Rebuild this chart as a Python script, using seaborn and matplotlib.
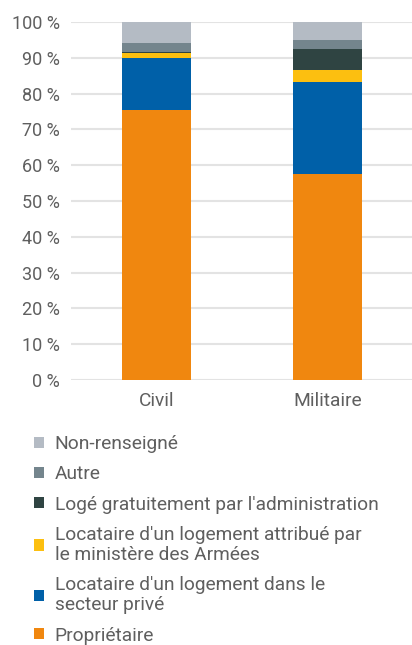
import numpy as np
import pandas as pd
import matplotlib.pyplot as plt
import seaborn as sns
from matplotlib.patches import Patch
from matplotlib.ticker import FuncFormatter

categories = ["Civil", "Militaire"]
series = [
    "Propriétaire",
    "Locataire d'un logement dans le\nsecteur privé",
    "Locataire d'un logement attribué par\nle ministère des Armées",
    "Logé gratuitement par l'administration",
    "Autre",
    "Non-renseigné",
]
proprietaire = [75.4, 57.6]
secteur_prive = [14.5, 25.7]
ministere = [1.3, 3.2]
loge_gratuit = [0.5, 6.0]
autre = [2.5, 2.5]
non_renseigne = [5.8, 5.0]
colors = ["#F0870F", "#0060A8", "#FCBF10", "#2F4442", "#74858D", "#B4BBC4"]

values = [proprietaire, secteur_prive, ministere, loge_gratuit, autre, non_renseigne]

sns.set_style("white")
plt.rcParams["font.family"] = ["Roboto", "DejaVu Sans"]
text_color = "#5f5f5f"

fig = plt.figure(figsize=(4.12, 6.45), dpi=100)
ax = fig.add_axes([0.172, 0.411, 0.83, 0.555])

# stacked bars: draw cumulative totals from the top down
cum = np.cumsum(np.array(values), axis=0)
for i in range(len(series) - 1, -1, -1):
    df = pd.DataFrame({"cat": categories, "val": cum[i]})
    sns.barplot(data=df, x="cat", y="val", color=colors[i], width=0.4,
                saturation=1, edgecolor="none", ax=ax, zorder=3)

ax.set_ylim(0, 100)
ax.set_xlim(-0.5, 1.5)
ax.set_yticks(range(0, 101, 10))
ax.yaxis.set_major_formatter(FuncFormatter(lambda v, p: f"{int(v)}\u00a0%"))
ax.grid(axis="y", color="#e3e3e3", linewidth=1.5, zorder=0)
ax.set_axisbelow(True)
for s in ax.spines.values():
    s.set_visible(False)
ax.tick_params(axis="both", length=0, labelcolor=text_color)
ax.tick_params(axis="y", pad=8, labelsize=13)
ax.tick_params(axis="x", pad=9, labelsize=13.8)
ax.set_xlabel("")
ax.set_ylabel("")

handles = [Patch(facecolor=colors[i], edgecolor="none", label=series[i])
           for i in range(len(series) - 1, -1, -1)]
leg = fig.legend(handles=handles, loc="upper left",
                 bbox_to_anchor=(34 / 412, 1 - 435 / 645), frameon=False,
                 fontsize=13.8, handlelength=0.52, handleheight=0.52,
                 handletextpad=0.55, labelspacing=0.64, borderpad=0,
                 borderaxespad=0)
for t in leg.get_texts():
    t.set_color(text_color)
    t.set_linespacing(1.15)

plt.savefig("out.png", dpi=100)
